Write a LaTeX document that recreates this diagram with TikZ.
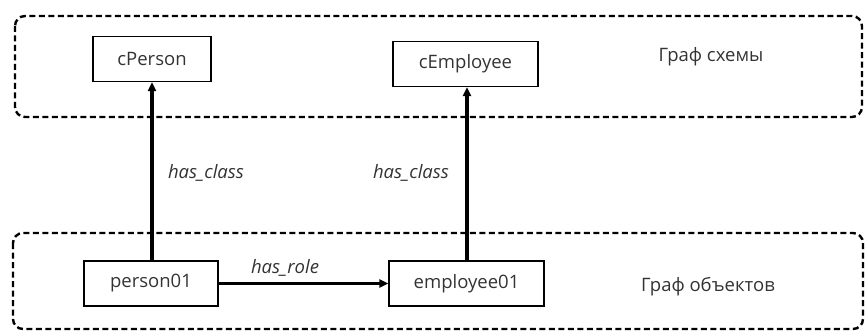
\documentclass[tikz,border=0pt]{standalone}
\usepackage{fontspec}
\setmainfont{Open Sans}
\usetikzlibrary{arrows.meta}
\begin{document}
\begin{tikzpicture}[x=1pt,y=-1pt,
  group/.style={draw=black, line width=2.4pt, dash pattern=on 6pt off 3.5pt, rounded corners=10pt},
  entity/.style={draw=black, line width=1.4pt, minimum height=45pt, inner sep=0pt, font=\fontsize{18.5}{22}\selectfont, text=black!80},
  rel/.style={line width=3.4pt, -{Triangle[length=9pt,width=8pt]}},
  lbl/.style={font=\fontsize{18.5}{22}\selectfont\itshape, text=black!80, inner sep=0pt},
  title/.style={font=\fontsize{18.5}{22}\selectfont, text=black!80, inner sep=0pt}]
\useasboundingbox (0,0) rectangle (865,334);
\draw[group] (15,16) rectangle (862,117);
\draw[group] (13,233) rectangle (863,329);
\node[entity, minimum width=118pt] (cperson) at (152,59) {cPerson\hspace{10pt}};
\node[entity, minimum width=145pt] (cemp) at (465.5,64) {cEmployee\hspace{14pt}};
\node[entity, minimum width=134pt] (person) at (151,283.5) {person01\hspace{10pt}};
\node[entity, minimum width=155pt] (emp) at (466.5,283.5) {employee01\hspace{8pt}};
\draw[rel] (person.north -| 152,0) -- (cperson.south -| 152,0);
\draw[rel] (emp.north -| 467,0) -- (cemp.south -| 467,0);
\draw[rel] (person.east) -- (emp.west);
\node[lbl] (hc1) at (206,173) {has\_class};
\node[lbl] (hc2) at (411,173) {has\_class};
\node[lbl] (hr) at (285,268) {has\_role};
\node[title] (t1) at (711,57) {Граф схемы};
\node[title] (t2) at (708,287) {Граф объектов};
\end{tikzpicture}
\end{document}
